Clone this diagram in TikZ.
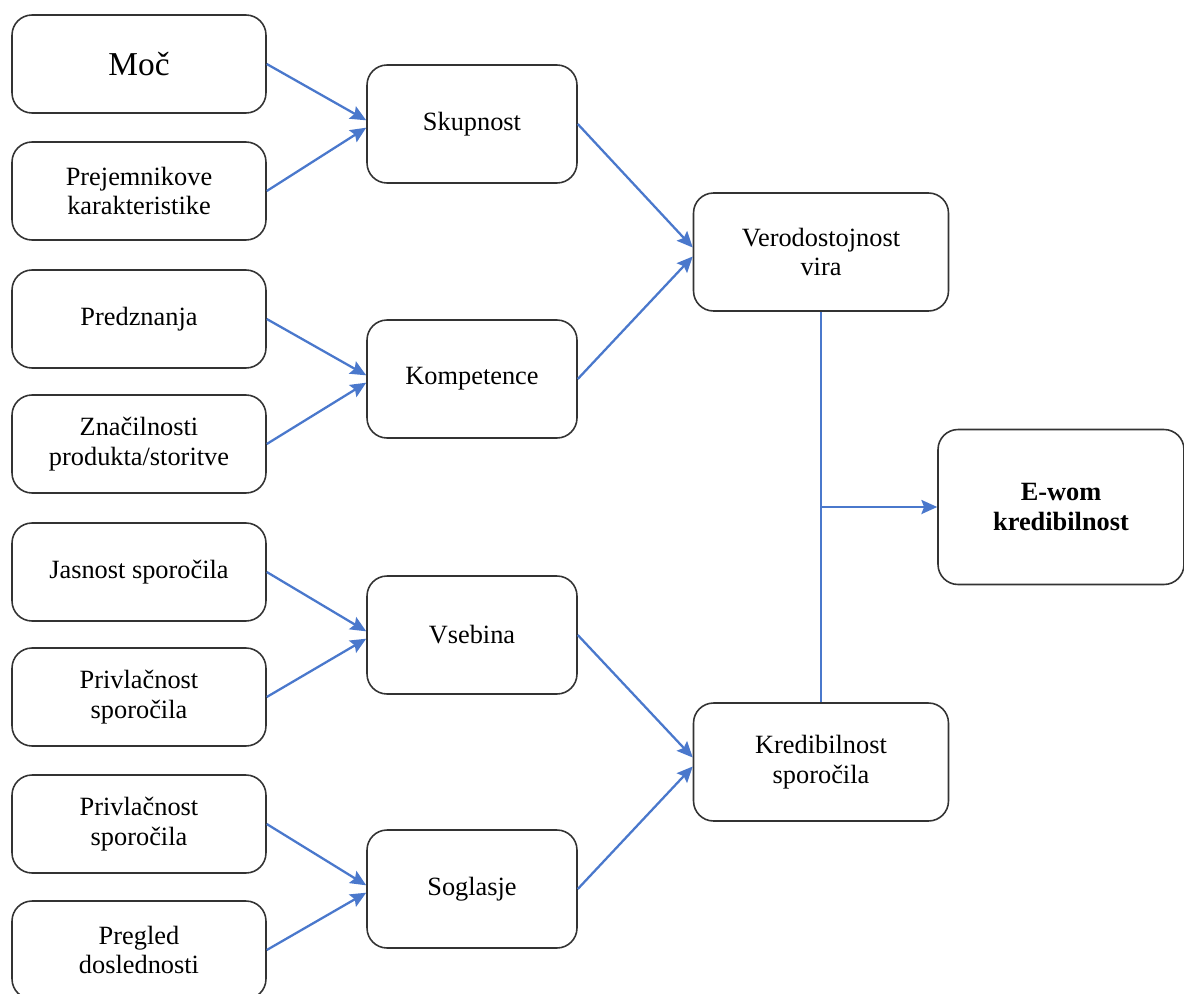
\documentclass[tikz,border=0pt]{standalone}
\usepackage{fontspec}
\setmainfont{Liberation Serif}
\usetikzlibrary{arrows.meta}
\definecolor{linkblue}{HTML}{4A78CC}
\begin{document}
\begin{tikzpicture}[x=0.02cm,y=-0.02cm,line join=round,>={Stealth[length=9pt,width=8pt,inset=1.5pt]},
  box/.style={draw=black!80,line width=0.9pt,rounded corners=0.4cm,align=center,inner sep=2pt,
    font=\fontsize{15}{17}\selectfont},
  lbox/.style={box,minimum width=5.08cm,minimum height=1.96cm},
  mbox/.style={box,minimum width=4.2cm,minimum height=2.36cm},
  rbox/.style={box,minimum width=5.1cm,minimum height=2.36cm},
  link/.style={draw=linkblue,line width=1.3pt}]
\useasboundingbox (0,0) rectangle (1184,994);
% left column
\foreach \n/\y/\t in {1/64/{\fontsize{19}{21}\selectfont Moč},2/191/{Prejemnikove\\karakteristike},
  3/319/{Predznanja},4/444/{Značilnosti\\produkta/storitve},5/572/{Jasnost sporočila},
  6/697/{Privlačnost\\sporočila},7/824/{Privlačnost\\sporočila},8/950/{Pregled\\doslednosti}}
  \node[lbox] (l\n) at (139,\y) {\t};
% middle column
\node[mbox] (skup) at (472,124) {Skupnost};
\node[mbox] (komp) at (472,379) {Kompetence};
\node[mbox] (vseb) at (472,635) {Vsebina};
\node[mbox] (sogl) at (472,889) {Soglasje};
% right column
\node[rbox] (vero) at (821,252) {Verodostojnost\\vira};
\node[rbox] (kred) at (821,762) {Kredibilnost\\sporočila};
\node[box,minimum width=4.92cm,minimum height=3.1cm,font=\fontsize{15}{17}\selectfont\bfseries] (ewom) at (1061,507) {E-wom\\kredibilnost};
\foreach \a/\b/\g in {l1/skup/178,l2/skup/182,l3/komp/178,l4/komp/182,l5/vseb/178,l6/vseb/182,l7/sogl/178,l8/sogl/182,
  skup/vero/178,komp/vero/182,vseb/kred/178,sogl/kred/182}
  \draw[link,->] (\a.east)--(\b.\g);
\coordinate (junc) at (vero.south |- ewom.west);
\draw[link] (vero.south)--(kred.north);
\draw[link,->] (junc)--(ewom.west);
\end{tikzpicture}
\end{document}
